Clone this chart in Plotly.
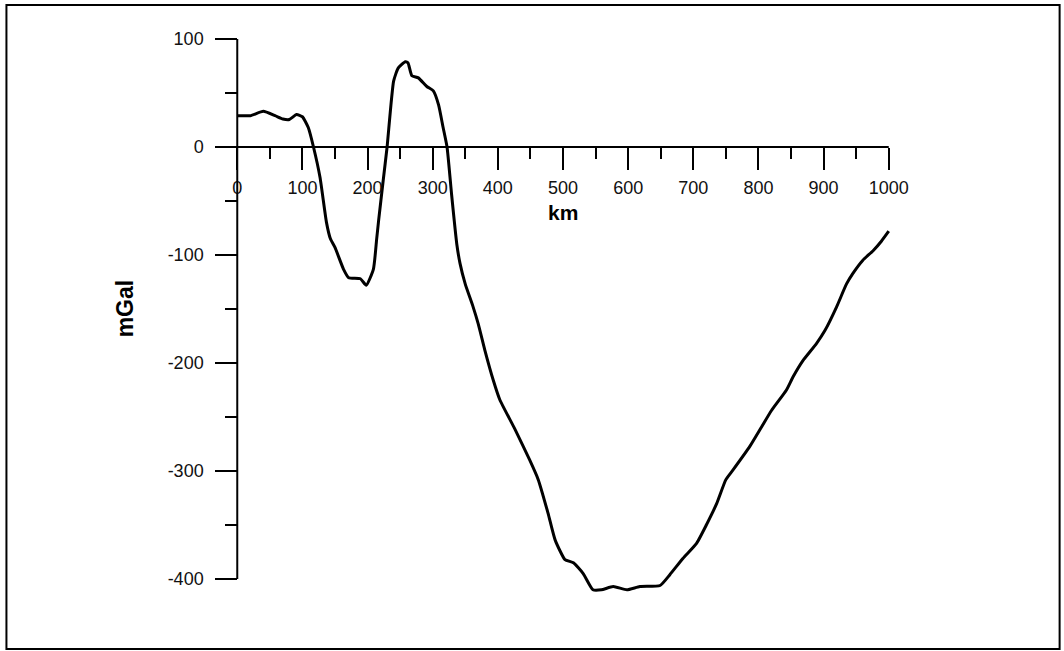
import plotly.graph_objects as go

# Gravity anomaly profile
distance_km = [0, 20, 40, 58, 70, 80, 91, 100, 109, 117, 127, 137, 143, 150, 163, 171,
               189, 198, 209, 214, 217, 224, 230, 240, 247, 258, 262, 268, 278, 291,
               301, 309, 316, 322, 329, 337, 342, 350, 362, 370, 380, 393, 403, 426,
               449, 462, 477, 488, 503, 516, 531, 546, 559, 577, 598, 618, 649, 664,
               684, 705, 720, 736, 750, 761, 787, 805, 820, 843, 853, 868, 889, 902,
               920, 935, 945, 960, 976, 989, 1000]
anomaly_mgal = [29, 29, 33, 29, 26, 25.5, 30, 28, 18, 0, -28, -70, -85, -93, -113, -121,
                -122, -128, -113, -85, -68, -31, 0, 61, 73, 79, 78, 66, 64, 56,
                52, 39, 18, 0, -44, -90, -108, -127, -148, -164, -188, -216, -234, -261,
                -290, -308, -339, -364, -382, -385, -395, -410, -410, -407, -410, -407, -406, -396,
                -381, -367, -350, -330, -308, -299, -277, -259, -244, -225, -213, -198, -182, -170,
                -148, -127, -117, -105, -96, -87, -78]

x_tickvals = [0, 100, 200, 300, 400, 500, 600, 700, 800, 900, 1000]
x_ticktext = ["0", "100", "200", "300", "400", "500", "600", "700", "800", "900", "1000"]
y_tickvals = [100, 0, -100, -200, -300, -400]
y_ticktext = ["100", "0", "-100", "-200", "-300", "-400"]

x_title = "km"
y_title = "mGal"

W, H = 1064, 651
XR = [-5, 1005]
YR = [-425, 100]
PX_PER_KM = 0.652
PX_PER_MGAL = 1.08
x0_px = 237
y100_px = 39

left = x0_px + XR[0] * PX_PER_KM
right = x0_px + XR[1] * PX_PER_KM
top = y100_px - (YR[1] - 100) * PX_PER_MGAL
bottom = y100_px + (100 - YR[0]) * PX_PER_MGAL
pw, ph = right - left, bottom - top


def px_x(p):
    return (p - left) / pw


def px_y(p):
    return (bottom - p) / ph


fig = go.Figure()
fig.add_trace(go.Scatter(
    x=distance_km, y=anomaly_mgal, mode="lines",
    line=dict(color="black", width=3, shape="spline", smoothing=0.5),
    showlegend=False, hoverinfo="skip"))

tick_font = dict(family="Liberation Sans, Arial, sans-serif", size=18, color="#111111")

fig.update_layout(
    width=W, height=H,
    margin=dict(l=left, r=W - right, t=top, b=H - bottom, pad=0),
    paper_bgcolor="white", plot_bgcolor="white",
    xaxis=dict(range=XR, showgrid=False, zeroline=False, showline=False,
               anchor="free", position=(0 - YR[0]) / (YR[1] - YR[0]),
               tickmode="array", tickvals=x_tickvals, ticktext=x_ticktext,
               ticks="outside", ticklen=22, tickwidth=1.5, tickcolor="black",
               minor=dict(ticks="outside", ticklen=11, dtick=50, tick0=0,
                          tickwidth=1.5, tickcolor="black"),
               tickfont=tick_font, ticklabelstandoff=2),
    yaxis=dict(range=YR, showgrid=False, zeroline=False, showline=False,
               anchor="free", position=(0 - XR[0]) / (XR[1] - XR[0]),
               tickmode="array", tickvals=y_tickvals, ticktext=y_ticktext,
               ticks="outside", ticklen=22, tickwidth=1.5, tickcolor="black",
               minor=dict(ticks="outside", ticklen=12, dtick=50, tick0=0,
                          tickwidth=1.5, tickcolor="black"),
               tickfont=tick_font, ticklabelstandoff=8),
)

# axis lines
fig.add_shape(type="line", xref="x", yref="y", x0=0, x1=0, y0=-400, y1=100,
              line=dict(color="black", width=2))
fig.add_shape(type="line", xref="x", yref="y", x0=0, x1=1000, y0=0, y1=0,
              line=dict(color="black", width=2))

# outer frame
fig.add_shape(type="rect", xref="paper", yref="paper",
              x0=px_x(6), x1=px_x(1060), y0=px_y(649), y1=px_y(5),
              line=dict(color="black", width=2), layer="below")

fig.add_annotation(text="<b>%s</b>" % x_title, xref="paper", yref="paper",
                   x=px_x(563), y=px_y(212), showarrow=False,
                   font=dict(family="Liberation Sans, Arial, sans-serif", size=21, color="black"),
                   xanchor="center", yanchor="middle")
fig.add_annotation(text="<b>%s</b>" % y_title, xref="paper", yref="paper",
                   x=px_x(125), y=px_y(308), showarrow=False,
                   font=dict(family="Liberation Sans, Arial, sans-serif", size=23, color="black"),
                   textangle=-90, xanchor="center", yanchor="middle")

fig.write_html("out.html")
